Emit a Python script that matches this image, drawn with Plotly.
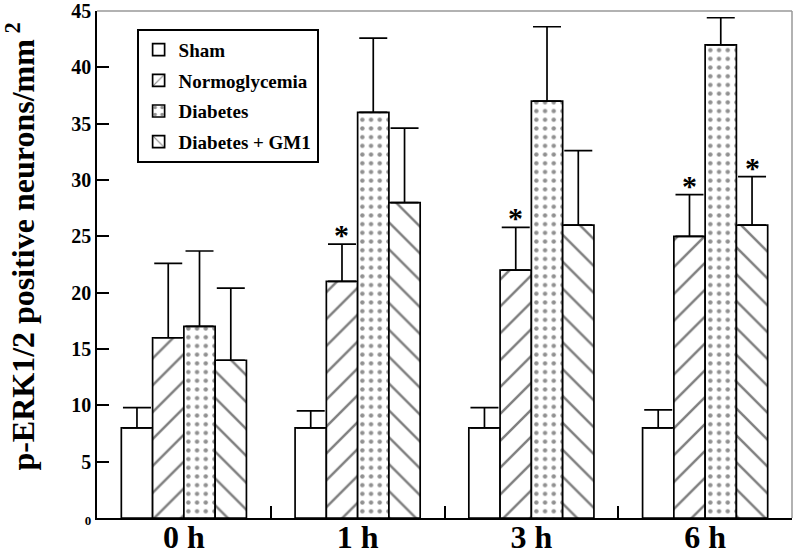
import plotly.graph_objects as go

categories = ["0 h", "1 h", "3 h", "6 h"]
series_names = ["Sham", "Normoglycemia", "Diabetes", "Diabetes + GM1"]
sham = [8.0, 8.0, 8.0, 8.0]
sham_err = [1.8, 1.5, 1.8, 1.6]
normo = [16.0, 21.0, 22.0, 25.0]
normo_err = [6.6, 3.3, 3.8, 3.7]
diab = [17.0, 36.0, 37.0, 42.0]
diab_err = [6.7, 6.6, 6.6, 2.4]
gm1 = [14.0, 28.0, 26.0, 26.0]
gm1_err = [6.4, 6.6, 6.6, 4.3]
# significance markers: (category index, series index)
stars = [(1, 1), (2, 1), (3, 1), (3, 3)]
y_ticks = [0, 5, 10, 15, 20, 25, 30, 35, 40, 45]

values = [sham, normo, diab, gm1]
errors = [sham_err, normo_err, diab_err, gm1_err]
patterns = [
    dict(shape=""),
    dict(shape="/", size=19, solidity=0.13, fgcolor="black", bgcolor="white", fillmode="overlay"),
    dict(shape=".", size=8.7, solidity=0.2, fgcolor="#222", bgcolor="white", fillmode="overlay"),
    dict(shape="\\", size=19, solidity=0.13, fgcolor="black", bgcolor="white", fillmode="overlay"),
]

FONT = "Liberation Serif"
bargap = 0.28
fig = go.Figure()
for i, name in enumerate(series_names):
    fig.add_trace(go.Bar(
        x=categories, y=values[i], name="<b>%s</b>" % name, legendgroup=name,
        marker=dict(color="white", line=dict(color="black", width=1.7), pattern=patterns[i]),
        error_y=dict(type="data", array=errors[i], arrayminus=[0] * 4, symmetric=False,
                     color="black", thickness=1.7, width=14),
    ))

bw = (1 - bargap) / len(series_names)
for ci, si in stars:
    fig.add_annotation(
        x=ci - (1 - bargap) / 2 + bw * (si + 0.5), y=values[si][ci] + errors[si][ci],
        text="<b>*</b>", showarrow=False, yanchor="bottom", yshift=-9,
        font=dict(family=FONT, size=30, color="black"),
    )

fig.add_annotation(
    xref="paper", yref="paper", x=-0.111, y=0.535, xanchor="center", yanchor="middle",
    text="<b>p-ERK1/2 positive neurons/mm<sup> 2</sup></b>", textangle=-90, showarrow=False,
    font=dict(family=FONT, size=32, color="black"),
)

fig.update_layout(
    width=800, height=559,
    margin=dict(l=97, r=8, t=11, b=41),
    paper_bgcolor="white", plot_bgcolor="white",
    barmode="group", bargap=bargap, bargroupgap=0,
    font=dict(family=FONT, color="black"),
    showlegend=True,
    legend=dict(
        x=0.057, y=0.965, xanchor="left", yanchor="top",
        bgcolor="white", bordercolor="black", borderwidth=2,
        font=dict(family=FONT, size=19, color="black"),
        tracegroupgap=3, traceorder="grouped",
        itemwidth=30,
    ),
    xaxis=dict(
        range=[-0.5, 3.5], showline=True, linecolor="black", linewidth=1.5,
        ticks="inside", ticklen=12, tickwidth=1.5, tickcolor="black",
        tickson="boundaries", mirror=False, automargin=False, showgrid=False,
        tickfont=dict(family=FONT, size=32, color="black"),
        tickprefix="<b>", ticksuffix="</b>", ticklabelstandoff=-10,
        ticklabeloverflow="allow",
    ),
    yaxis=dict(
        range=[0, 45], showline=True, linecolor="black", linewidth=1.5,
        ticks="inside", ticklen=12, tickwidth=1.5, tickcolor="black",
        tickvals=y_ticks, automargin=False, ticklabeloverflow="allow",
        ticktext=["<b><span style='font-size:13px'>%d</span></b>" % v if v == 0 else "<b>%d</b>" % v
                  for v in y_ticks],
        tickfont=dict(family=FONT, size=20, color="black"),
        showgrid=False, zeroline=False,
    ),
)
# grey frame on top/right
fig.add_shape(type="line", xref="paper", yref="paper", x0=0, x1=1, y0=1, y1=1,
              line=dict(color="#999", width=1.5))
fig.add_shape(type="line", xref="paper", yref="paper", x0=1, x1=1, y0=0, y1=1,
              line=dict(color="#999", width=1.5))
fig.write_html("out.html", config={"displayModeBar": False},
               post_script="document.body.style.margin='0';document.body.style.overflow='hidden';")
